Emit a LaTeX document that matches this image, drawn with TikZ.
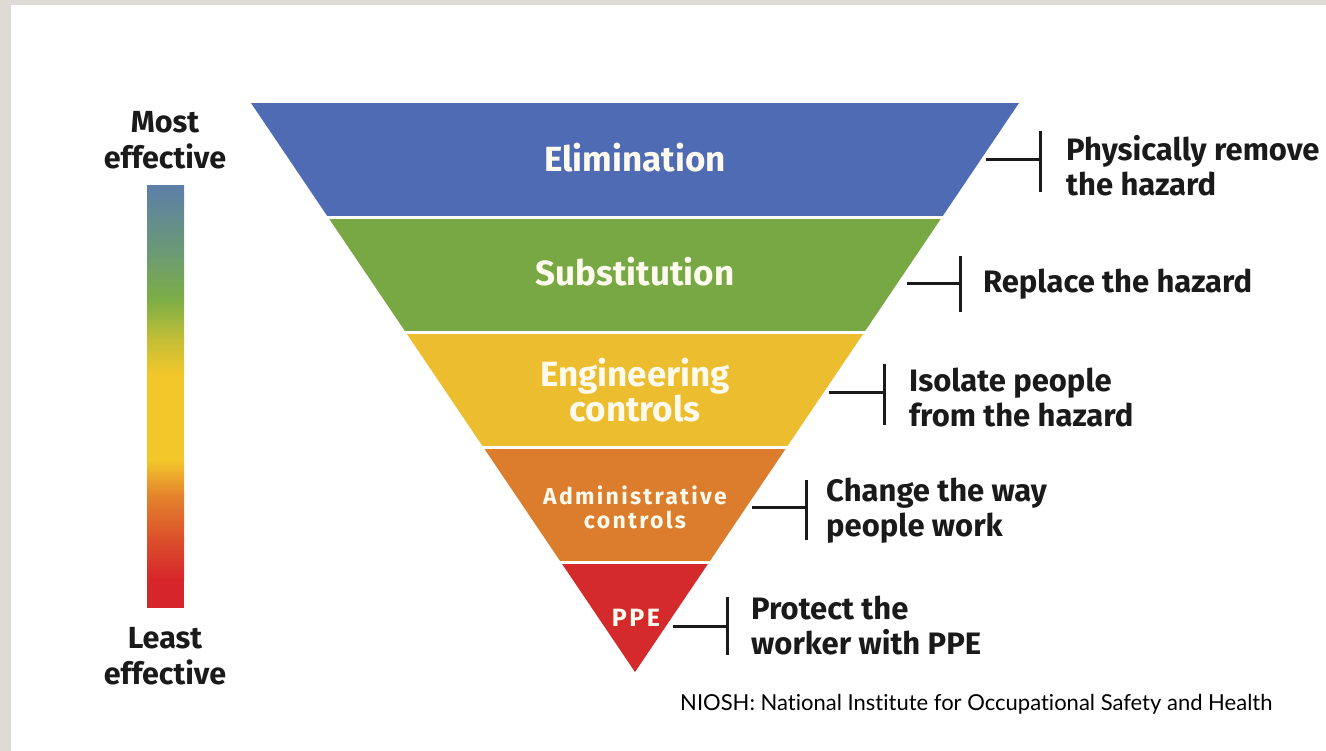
\documentclass[tikz,border=0pt]{standalone}
\usepackage{fontspec}
\setmainfont{Fira Sans}
\newfontfamily\footfont[Ligatures=NoCommon]{Lato}
\newfontfamily\widefont[LetterSpace=10]{Fira Sans}
\usetikzlibrary{calc}
\definecolor{bggray}{HTML}{DEDBD6}
\definecolor{cBlue}{HTML}{4F6BB4}
\definecolor{cGreen}{HTML}{77A843}
\definecolor{cYellow}{HTML}{EDBD30}
\definecolor{cOrange}{HTML}{DC7D2D}
\definecolor{cRed}{HTML}{D42A2C}
\definecolor{gBlue}{HTML}{5D7FA8}
\definecolor{gTeal}{HTML}{6C9A74}
\definecolor{gGreen}{HTML}{7DAE46}
\definecolor{gLime}{HTML}{C4BE36}
\definecolor{gYellow}{HTML}{F3C72A}
\definecolor{gOrange}{HTML}{E4852C}
\definecolor{gRedOr}{HTML}{DB4F2B}
\definecolor{gRed}{HTML}{D6262B}
\definecolor{txtW}{HTML}{FFFAEE}
\definecolor{txtK}{HTML}{1A1A1A}
\tikzset{
  bandtxt/.style={text=txtW, font=\bfseries\fontsize{35}{35}\selectfont, align=center, inner sep=0pt},
  bandsmall/.style={text=txtW, font=\widefont\bfseries\fontsize{23}{24}\selectfont, align=center, inner sep=0pt},
  desc/.style={text=txtK, font=\bfseries\fontsize{31}{35}\selectfont, align=left, anchor=west, inner sep=0pt},
  efftxt/.style={text=txtK, font=\bfseries\fontsize{30.5}{36}\selectfont, align=center, inner sep=0pt},
  conn/.style={draw=txtK, line width=3pt},
}
\begin{document}
\begin{tikzpicture}[x=1pt,y=-1pt]
\useasboundingbox (0,0) rectangle (1326,751);
\fill[bggray] (0,0) rectangle (1326,751);
\fill[white] (11,5) rectangle (1326,751);

% inverted triangle bands
\begin{scope}
\clip (251,103) -- (1019,103) -- (635,672) -- cycle;
\fill[cBlue] (200,103) rectangle (1100,216);
\fill[cGreen] (200,219) rectangle (1100,331);
\fill[cYellow] (200,334) rectangle (1100,446);
\fill[cOrange] (200,449) rectangle (1100,561);
\fill[cRed] (200,564) rectangle (1100,680);
\end{scope}

\node[bandtxt] (elim) at (635,158) {Elimination};
\node[bandtxt] (subs) at (635,272) {Substitution};
\node[bandtxt] (eng) at (635,390) {Engineering\\controls};
\node[bandsmall] (adm) at (635,507) {Administrative\\controls};
\node[bandsmall, font=\widefont\bfseries\fontsize{25}{26}\selectfont] (ppe) at (636,618) {PPE};

% gradient bar
\shade[top color=gBlue, bottom color=gTeal] (147,186) rectangle (184,253);
\shade[top color=gTeal, bottom color=gGreen] (147,252.5) rectangle (184,300);
\shade[top color=gGreen, bottom color=gLime] (147,299.5) rectangle (184,340);
\shade[top color=gLime, bottom color=gYellow] (147,339.5) rectangle (184,375);
\fill[gYellow] (147,374.5) rectangle (184,460);
\shade[top color=gYellow, bottom color=gOrange] (147,459.5) rectangle (184,495);
\shade[top color=gOrange, bottom color=gRedOr] (147,494.5) rectangle (184,540);
\shade[top color=gRedOr, bottom color=gRed] (147,539.5) rectangle (184,580);
\fill[gRed] (147,579.5) rectangle (184,608);

\node[efftxt] (most) at (165,140) {Most\\effective};
\node[efftxt] (least) at (165,656) {Least\\effective};

% connectors and descriptions
\coordinate (s1) at (986,160);  \coordinate (b1) at (1040,160);
\coordinate (s2) at (907,284);  \coordinate (b2) at (960,284);
\coordinate (s3) at (829,393);  \coordinate (b3) at (884,393);
\coordinate (s4) at (752,507);  \coordinate (b4) at (806,507);
\coordinate (s5) at (673,626);  \coordinate (b5) at (727,626);

\draw[conn] (s1) -- (b1);
\draw[conn] ($(b1)+(0,-29)$) -- ($(b1)+(0,32)$);
\draw[conn] (s2) -- (b2);
\draw[conn] ($(b2)+(0,-28)$) -- ($(b2)+(0,28)$);
\draw[conn] (s3) -- (b3);
\draw[conn] ($(b3)+(0,-29)$) -- ($(b3)+(0,32)$);
\draw[conn] (s4) -- (b4);
\draw[conn] ($(b4)+(0,-27)$) -- ($(b4)+(0,33)$);
\draw[conn] (s5) -- (b5);
\draw[conn] ($(b5)+(0,-29)$) -- ($(b5)+(0,29)$);

\node[desc] (d1) at (1066,166) {Physically remove\\the hazard};
\node[desc] (d2) at (983,284) {Replace the hazard};
\node[desc] (d3) at (909,397) {Isolate people\\from the hazard};
\node[desc] (d4) at (826,511) {Change the way\\people work};
\node[desc] (d5) at (751,626) {Protect the\\worker with PPE};

\node[anchor=west, inner sep=0pt, text=black, font=\footfont\fontsize{22}{26}\selectfont] (src) at (680,704) {NIOSH: National Institute for Occupational Safety and Health};
\end{tikzpicture}
\end{document}
